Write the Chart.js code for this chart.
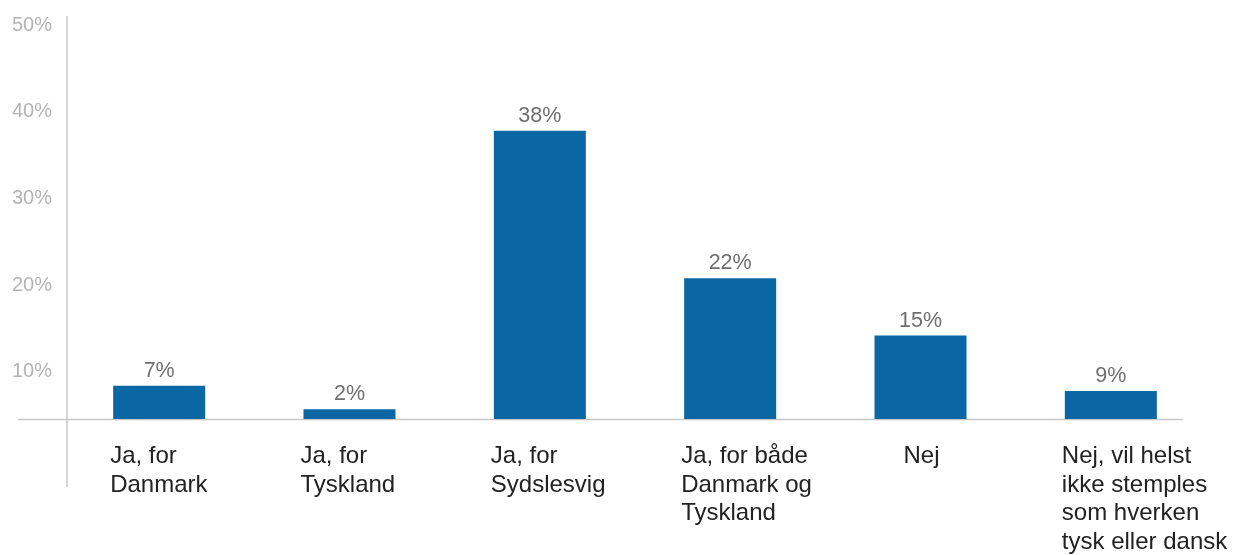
<!DOCTYPE html>
<html>
<head>
<meta charset="utf-8">
<script src="https://cdn.jsdelivr.net/npm/chart.js@4.4.0/dist/chart.umd.min.js"></script>
<style>
  html, body { margin: 0; padding: 0; background: #ffffff; }
  #wrap { width: 1242px; height: 555px; position: relative; }
</style>
</head>
<body>
<div id="wrap"><canvas id="c"></canvas></div>
<script>
// ---- data ----
const categories = [
  ['Ja, for', 'Danmark'],
  ['Ja, for', 'Tyskland'],
  ['Ja, for', 'Sydslesvig'],
  ['Ja, for både', 'Danmark og', 'Tyskland'],
  ['Nej'],
  ['Nej, vil helst', 'ikke stemples', 'som hverken', 'tysk eller dansk']
];
// bar heights as read against the picture's % axis
const barValues = [8.4, 5.7, 37.8, 20.8, 14.2, 7.8];
// value labels printed above the bars
const valueLabels = ['7%', '2%', '38%', '22%', '15%', '9%'];
const tickValues = [10, 20, 30, 40, 50];
const axisBase = 4.58;   // value at which the category axis line sits
const yMin = -3.26;
const yMax = 51.04;

const FONT = '"Liberation Sans", Arial, Helvetica, sans-serif';

const decor = {
  id: 'decor',
  beforeDatasetsDraw(chart) {
    const ctx = chart.ctx;
    const y = chart.scales.y;
    const area = chart.chartArea;
    ctx.save();
    ctx.strokeStyle = '#c8c8c8';
    ctx.lineWidth = 1.5;
    // vertical axis line
    ctx.beginPath();
    ctx.moveTo(area.left + 3, area.top);
    ctx.lineTo(area.left + 3, area.bottom);
    ctx.stroke();
    // horizontal category axis line
    const yb = y.getPixelForValue(axisBase) + 0.5;
    ctx.beginPath();
    ctx.moveTo(18, yb);
    ctx.lineTo(area.right - 23, yb);
    ctx.stroke();
    ctx.restore();
  },
  afterDatasetsDraw(chart) {
    const ctx = chart.ctx;
    const x = chart.scales.x;
    const y = chart.scales.y;
    const meta = chart.getDatasetMeta(0);
    ctx.save();
    // value labels
    ctx.font = '21.5px ' + FONT;
    ctx.fillStyle = '#6f6f6f';
    ctx.textAlign = 'center';
    ctx.textBaseline = 'alphabetic';
    meta.data.forEach((bar, i) => {
      ctx.fillText(valueLabels[i], bar.x, bar.y - 9);
    });
    // category labels
    ctx.font = '24px ' + FONT;
    ctx.fillStyle = '#222222';
    const baseY = y.getPixelForValue(axisBase) + 44.5;
    categories.forEach((lines, i) => {
      const cx = x.getPixelForValue(i);
      if (lines.length === 1) {
        ctx.textAlign = 'center';
        ctx.fillText(lines[0], cx + 1, baseY);
      } else {
        ctx.textAlign = 'left';
        lines.forEach((t, k) => ctx.fillText(t, cx - 49, baseY + k * 28.5));
      }
    });
    ctx.restore();
  }
};

new Chart(document.getElementById('c'), {
  type: 'bar',
  data: {
    labels: categories,
    datasets: [{
      data: barValues,
      base: axisBase,
      backgroundColor: '#0b67a3',
      borderWidth: 0,
      barPercentage: 0.4834,
      categoryPercentage: 1.0
    }]
  },
  options: {
    responsive: true,
    maintainAspectRatio: false,
    animation: false,
    layout: { padding: { left: 12, top: 16, right: 36, bottom: 68 } },
    plugins: {
      legend: { display: false },
      tooltip: { enabled: false },
      title: { display: false }
    },
    scales: {
      x: {
        display: false,
        offset: true,
        grid: { display: false }
      },
      y: {
        min: yMin,
        max: yMax,
        afterBuildTicks(scale) {
          scale.ticks = tickValues.map(v => ({ value: v }));
        },
        afterFit(scale) {
          scale.width = 52;
          scale.paddingTop = 0;
          scale.paddingBottom = 0;
        },
        grid: { display: false, drawTicks: false },
        border: { display: false },
        ticks: {
          padding: 12,
          color: '#b4b4b4',
          font: { family: FONT, size: 20 },
          callback: v => v + '%'
        }
      }
    }
  },
  plugins: [decor]
});
</script>
</body>
</html>
